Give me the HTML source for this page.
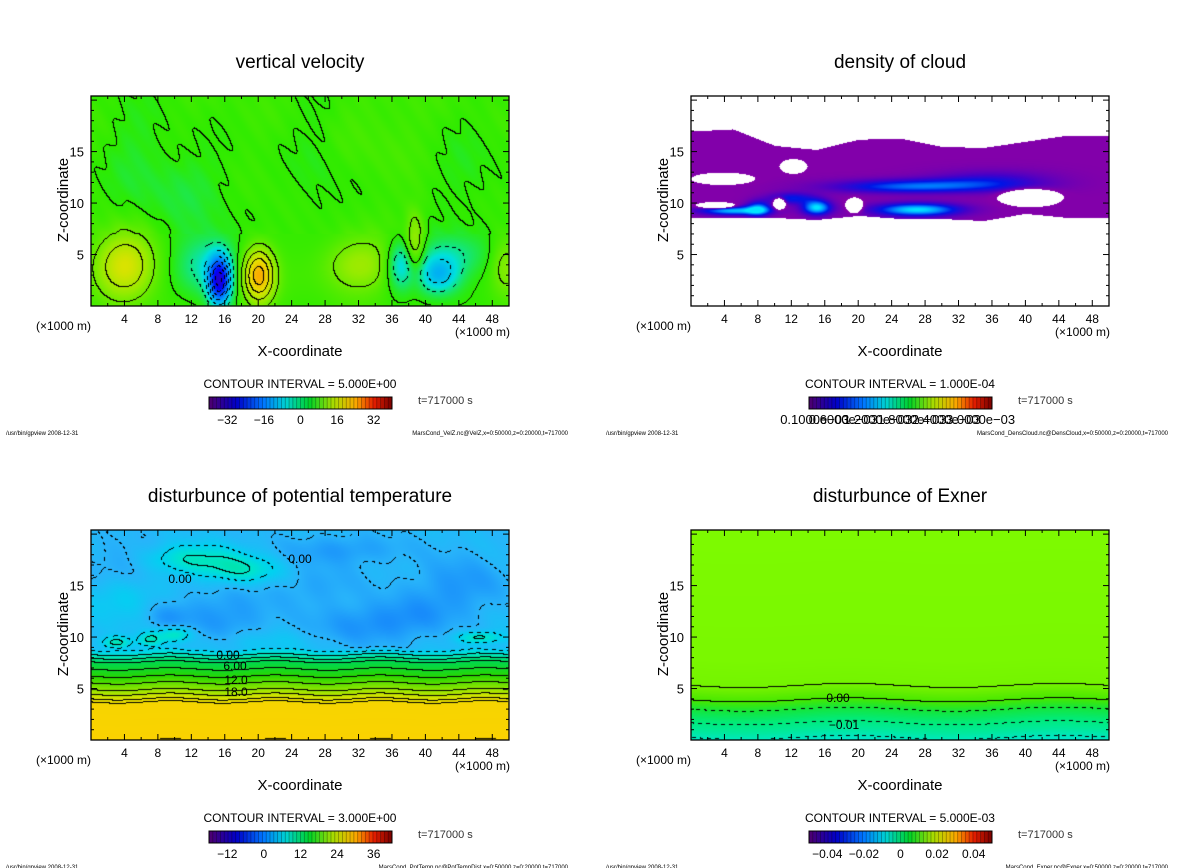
<!DOCTYPE html>
<html><head><meta charset="utf-8"><style>
html,body{margin:0;padding:0;background:#fff;}
#wrap{position:relative;width:1200px;height:868px;overflow:hidden;font-family:"Liberation Sans",sans-serif;}
canvas{position:absolute;}
svg{position:absolute;left:0;top:0;}
</style></head><body>
<div id="wrap">
<canvas id="c0" width="418" height="210" style="left:91px;top:96px"></canvas>
<canvas id="c1" width="418" height="210" style="left:691px;top:96px"></canvas>
<canvas id="c2" width="418" height="210" style="left:91px;top:530px"></canvas>
<canvas id="c3" width="418" height="210" style="left:691px;top:530px"></canvas>
<svg id="ov" width="1200" height="868"></svg>
</div>
<script>
// ---- data ----
const xTicks=[4,8,12,16,20,24,28,32,36,40,44,48];
const zTicks=[5,10,15];
const titles=["vertical velocity","density of cloud","disturbunce of potential temperature","disturbunce of Exner"];
const intervals=["5.000E+00","1.000E-04","3.000E+00","5.000E-03"];
const cbLabels0=["-32","-16","0","16","32"];
const cbVals0=[-32,-16,0,16,32];
const cbLabels1=["0.1000e-03","0.6000e-03","1.2000e-03","1.8000e-03","2.4000e-03","3.0000e-03"];
const cbVals1=[0.1,0.6,1.2,1.8,2.4,3.0];
const cbLabels2=["-12","0","12","24","36"];
const cbVals2=[-12,0,12,24,36];
const cbLabels3=["-0.04","-0.02","0","0.02","0.04"];
const cbVals3=[-0.04,-0.02,0,0.02,0.04];
const footers=["MarsCond_VelZ.nc@VelZ,x=0:50000,z=0:20000,t=717000","MarsCond_DensCloud.nc@DensCloud,x=0:50000,z=0:20000,t=717000","MarsCond_PotTemp.nc@PotTempDist,x=0:50000,z=0:20000,t=717000","MarsCond_Exner.nc@Exner,x=0:50000,z=0:20000,t=717000"];
// vertical velocity blobs: x(km), z(km), amplitude, sx, sz
const velX=[4,20,15.3,14,32,38.7,37,41.5,43,49.5,11,5,27,45,34];
const velZ=[4,3,2.5,4,4,6,4,3,5,4,11,15,14,13,17];
const velA=[14,22,-28,-8,8,9,-10,-12,-6,6,-2.5,-1.6,-1.5,-1.6,1];
const velSX=[2.5,1.3,0.9,2.5,3,0.8,1.2,1.8,3,1.2,4,2.5,2,2.5,4];
const velSZ=[2.2,1.8,1.6,2,1.8,2.2,1.6,1.3,1.5,2,3,4,5,3,3];
// cloud band boundaries sampled at x = 0,5,...,50 km
const cloudX=[0,5,10,15,20,25,30,35,40,45,50];
const cloudTop=[17.0,17.2,15.6,15.2,16.2,16.3,15.5,15.4,16.0,16.6,16.6];
const cloudBot=[8.6,8.6,8.6,8.4,8.8,8.5,8.5,8.3,9.0,8.6,8.6];
// cloud holes & streaks: x,z,amp,sx,sz
const clX=[3.8,12.2,3.0,10.5,40.5,19.5,15,5,27,28,36,25,12,8];
const clZ=[12.4,13.6,9.8,10.0,10.6,9.8,9.6,9.3,9.4,11.8,12.2,11.5,10.5,9.5];
const clA=[-9,-9,-9,-8,-9,-8,4,3.6,4,1.8,1.3,1.2,2,3];
const clSX=[1.6,0.7,1.1,0.4,1.7,0.5,1.2,2.8,3.6,7,5,6,2,1];
const clSZ=[0.25,0.3,0.15,0.3,0.4,0.35,0.5,0.3,0.45,0.45,0.7,0.4,0.4,0.5];
// potential temperature profile
const ptZ=[0,3.5,4.0,4.9,6.2,7.6,8.3,9,20.4];
const ptV=[30,29,24,18,12,6,0,-5,-5.5];
const ptBX=[12,18,3,7,10,46.5,5,16,32,44,30,4,20,38,27,9];
const ptBZ=[17.6,16.5,9.5,9.8,10.3,10,17,12,11,15,18.5,14,9.6,12,15,12];
const ptBA=[6,5,6,5.5,6,6,-2,-2.5,-2.2,-2.4,-2,2,1.5,-2,-1.5,-2];
const ptBSX=[4,3,1.2,1,1.3,1.8,4,4,5,4,5,3,4,4,4,2];
const ptBSZ=[1,0.9,0.4,0.5,0.5,0.4,1.5,2,1.5,2,1,1.5,0.8,1.5,1.5,1];
// exner profile
const exZ=[0,1,2,3,3.9,5.3,8,20.4];
const exV=[-0.016,-0.012,-0.009,-0.005,0,0.005,0.006,0.0065];

// ---- helpers ----
function interp(xs,ys,x){if(x<=xs[0])return ys[0];for(let i=1;i<xs.length;i++){if(x<=xs[i]){const t=(x-xs[i-1])/(xs[i]-xs[i-1]);return ys[i-1]+t*(ys[i]-ys[i-1]);}}return ys[ys.length-1];}
function blobs(X,Z,A,SX,SZ,x,z){let s=0;for(let k=0;k<X.length;k++){const dx=(x-X[k])/SX[k],dz=(z-Z[k])/SZ[k];s+=A[k]*Math.exp(-0.5*(dx*dx+dz*dz));}return s;}
function cmap(stops,v){if(v<=stops[0][0])return stops[0].slice(1);for(let i=1;i<stops.length;i++){if(v<=stops[i][0]){const a=stops[i-1],b=stops[i],t=(v-a[0])/(b[0]-a[0]);return [a[1]+t*(b[1]-a[1]),a[2]+t*(b[2]-a[2]),a[3]+t*(b[3]-a[3])];}}return stops[stops.length-1].slice(1);}
const W=418,H=210,ZMAX=20.4,XMAX=50;
function px2x(i){return i/W*XMAX;} function px2z(j){return (H-j)/H*ZMAX;}
function drawField(id,fn,stops,intv,doContour,mask){
  const c=document.getElementById(id),ctx=c.getContext('2d');const img=ctx.createImageData(W,H);
  const F=new Float32Array(W*H);
  for(let j=0;j<H;j++)for(let i=0;i<W;i++)F[j*W+i]=fn(px2x(i),px2z(j));
  for(let j=0;j<H;j++)for(let i=0;i<W;i++){
    const v=F[j*W+i],o=(j*W+i)*4;let col;
    if(mask&&!mask(v)){col=[255,255,255];}else col=cmap(stops,v);
    if(doContour&&i<W-1&&j<H-1){const L=Math.floor(v/intv),L1=Math.floor(F[j*W+i+1]/intv),L2=Math.floor(F[(j+1)*W+i]/intv);
      if(L!==L1||L!==L2){const lv=Math.max(L,L1,L2)*intv;const neg=lv<-1e-12;
        if(!neg||(((i+j)>>2)&1)===0){col=[0,0,0];}}}
    img.data[o]=col[0];img.data[o+1]=col[1];img.data[o+2]=col[2];img.data[o+3]=255;}
  ctx.putImageData(img,0,0);
}
// panel 1
const velStops=[[-40,90,0,120],[-28,0,0,255],[-16,0,150,255],[-8,0,225,220],[0,45,235,0],[8,150,235,0],[16,230,225,0],[24,255,160,0],[32,255,40,0],[40,150,0,0]];
drawField('c0',(x,z)=>0.8+blobs(velX,velZ,velA,velSX,velSZ,x,z)+0.6*Math.sin(x*0.45+z*0.25)*Math.cos(z*0.55-x*0.2)+(z>7?0.35*Math.sin(x*2.1+z*1.7):0),velStops,5,true);
// panel 2
const clStops=[[0,135,0,170],[1,130,0,170],[2,70,0,200],[3,0,20,230],[4,0,130,255],[5,0,230,255]];
drawField('c1',(x,z)=>{const t=interp(cloudX,cloudTop,x),b=interp(cloudX,cloudBot,x);if(z>t||z<b)return -5;return 1+blobs(clX,clZ,clA,clSX,clSZ,x,z);},clStops,1,false,v=>v>0.5);
// panel 3
const ptStops=[[-12,0,90,240],[-9,20,130,250],[-6,40,180,250],[-3,0,210,240],[0,0,230,200],[3,0,225,140],[6,0,215,80],[12,40,215,0],[18,150,230,0],[24,230,225,0],[30,250,210,0]];
drawField('c2',(x,z)=>{const zz=z+0.12*Math.sin(x*0.5);let v=interp(ptZ,ptV,zz);if(z>8.4)v+=blobs(ptBX,ptBZ,ptBA,ptBSX,ptBSZ,x,z)+0.5*Math.sin(x*0.8+z*1.1)*Math.cos(x*0.4);return v;},ptStops,3,true);
// panel 4
const exStops=[[-0.016,0,230,200],[-0.01,0,235,130],[-0.005,20,230,60],[0,70,232,0],[0.004,110,240,0],[0.0065,125,250,0]];
drawField('c3',(x,z)=>interp(exZ,exV,z+0.2*Math.sin(x*0.25)),exStops,0.005,true);

// ---- overlay ----
const ov=document.getElementById('ov');const NS='http://www.w3.org/2000/svg';
function el(tag,attrs,parent){const e=document.createElementNS(NS,tag);for(const k in attrs)e.setAttribute(k,attrs[k]);(parent||ov).appendChild(e);return e;}
function txt(s,x,y,size,anchor,parent,extra){const e=el('text',Object.assign({x:x,y:y,'font-size':size,'text-anchor':anchor||'start','font-family':'Liberation Sans, sans-serif',fill:'#000'},extra||{}),parent);e.textContent=s;return e;}
const panels=[[0,0],[600,0],[0,434],[600,434]];
const cbLabs=[cbLabels0,cbLabels1,cbLabels2,cbLabels3];
const cbVals=[cbVals0,cbVals1,cbVals2,cbVals3];
const cbRange=[[-40,40],[0,3.2],[-18,42],[-0.05,0.05]];
const rainbow=[[0,80,0,110],[0.15,0,0,200],[0.3,0,120,255],[0.42,0,210,210],[0.55,0,210,40],[0.68,170,220,0],[0.8,250,170,0],[0.9,230,30,0],[1,120,0,0]];
panels.forEach((p,k)=>{
  const ox=p[0],oy=p[1];const L=91+ox,T=96+oy,R=L+W,B=T+H;
  const g=el('g',{});
  
  
  const t=txt(titles[k],300+ox,68+oy,19,'middle',g);
  
  
  const fr=el('rect',{x:L,y:T,width:W,height:H,fill:'none',stroke:'#000','stroke-width':1.3},g);
  
  
  const xs=v=>L+v/XMAX*W, zs=v=>B-v/ZMAX*H;
  for(let v=2;v<XMAX;v+=2){const X=xs(v),len=(v%4===0)?6:3;el('line',{x1:X,y1:B,x2:X,y2:B-len,stroke:'#000'},g);el('line',{x1:X,y1:T,x2:X,y2:T+len,stroke:'#000'},g);}
  for(let v=1;v<ZMAX;v+=1){const Y=zs(v),len=(v%5===0)?6:3;el('line',{x1:L,y1:Y,x2:L+len,y2:Y,stroke:'#000'},g);el('line',{x1:R,y1:Y,x2:R-len,y2:Y,stroke:'#000'},g);}
  xTicks.forEach(v=>{const e=txt(String(v),xs(v),323+oy,12,'middle',g);});
  zTicks.forEach(v=>{const e=txt(String(v),84+ox,zs(v)+5,13,'end',g);});
  const u1=txt('(×1000 m)',36+ox,330+oy,12,'start',g);
  const u2=txt('(×1000 m)',455+ox,336+oy,12,'start',g);
  const xa=txt('X-coordinate',300+ox,356+oy,15,'middle',g);
  const ya=txt('Z-coordinate',0,0,15,'middle',g,{transform:'translate('+(68+ox)+','+(200+oy)+') rotate(-90)'});
  const ci=txt('CONTOUR INTERVAL = '+intervals[k],300+ox,388+oy,12,'middle',g);
  const cb=el('g',{},g);
  const bx=209+ox,bw=183,by=397+oy,bh=12,N=48;
  for(let i=0;i<N;i++){const c=cmap(rainbow,(i+0.5)/N);el('rect',{x:bx+i*bw/N,y:by,width:bw/N+0.3,height:bh,fill:'rgb('+c.map(Math.round).join(',')+')'},cb);
    el('line',{x1:bx+i*bw/N,y1:by,x2:bx+i*bw/N,y2:by+bh,stroke:'rgba(0,0,0,0.35)','stroke-width':0.8},cb);}
  el('rect',{x:bx,y:by,width:bw,height:bh,fill:'none',stroke:'#000'},cb);
  const rg=cbRange[k];
  cbLabs[k].forEach((s,i)=>{const X=bx+(cbVals[k][i]-rg[0])/(rg[1]-rg[0])*bw;const e=txt(s.replace('-','−'),X,424+oy,k===1?13:12,'middle',cb);});
  const tt=txt('t=717000 s',418+ox,404+oy,11,'start',g,{fill:'#333'});
  const f1=txt('/usr/bin/gpview   2008-12-31',6+ox,435+oy,6,'start',g,{'xml:space':'preserve'});
  const f2=txt(footers[k],568+ox,435+oy,6,'end',g);
});
function clab(s,x,y){const e=txt(s,x,y,12,'middle');}
clab('0.00',228,659);clab('6.00',235,670);clab('12.0',236,684);clab('18.0',236,696);clab('0.00',180,583);clab('0.00',300,563);
clab('0.00',838,702);clab('−0.01',844,729);
</script>
</body></html>
